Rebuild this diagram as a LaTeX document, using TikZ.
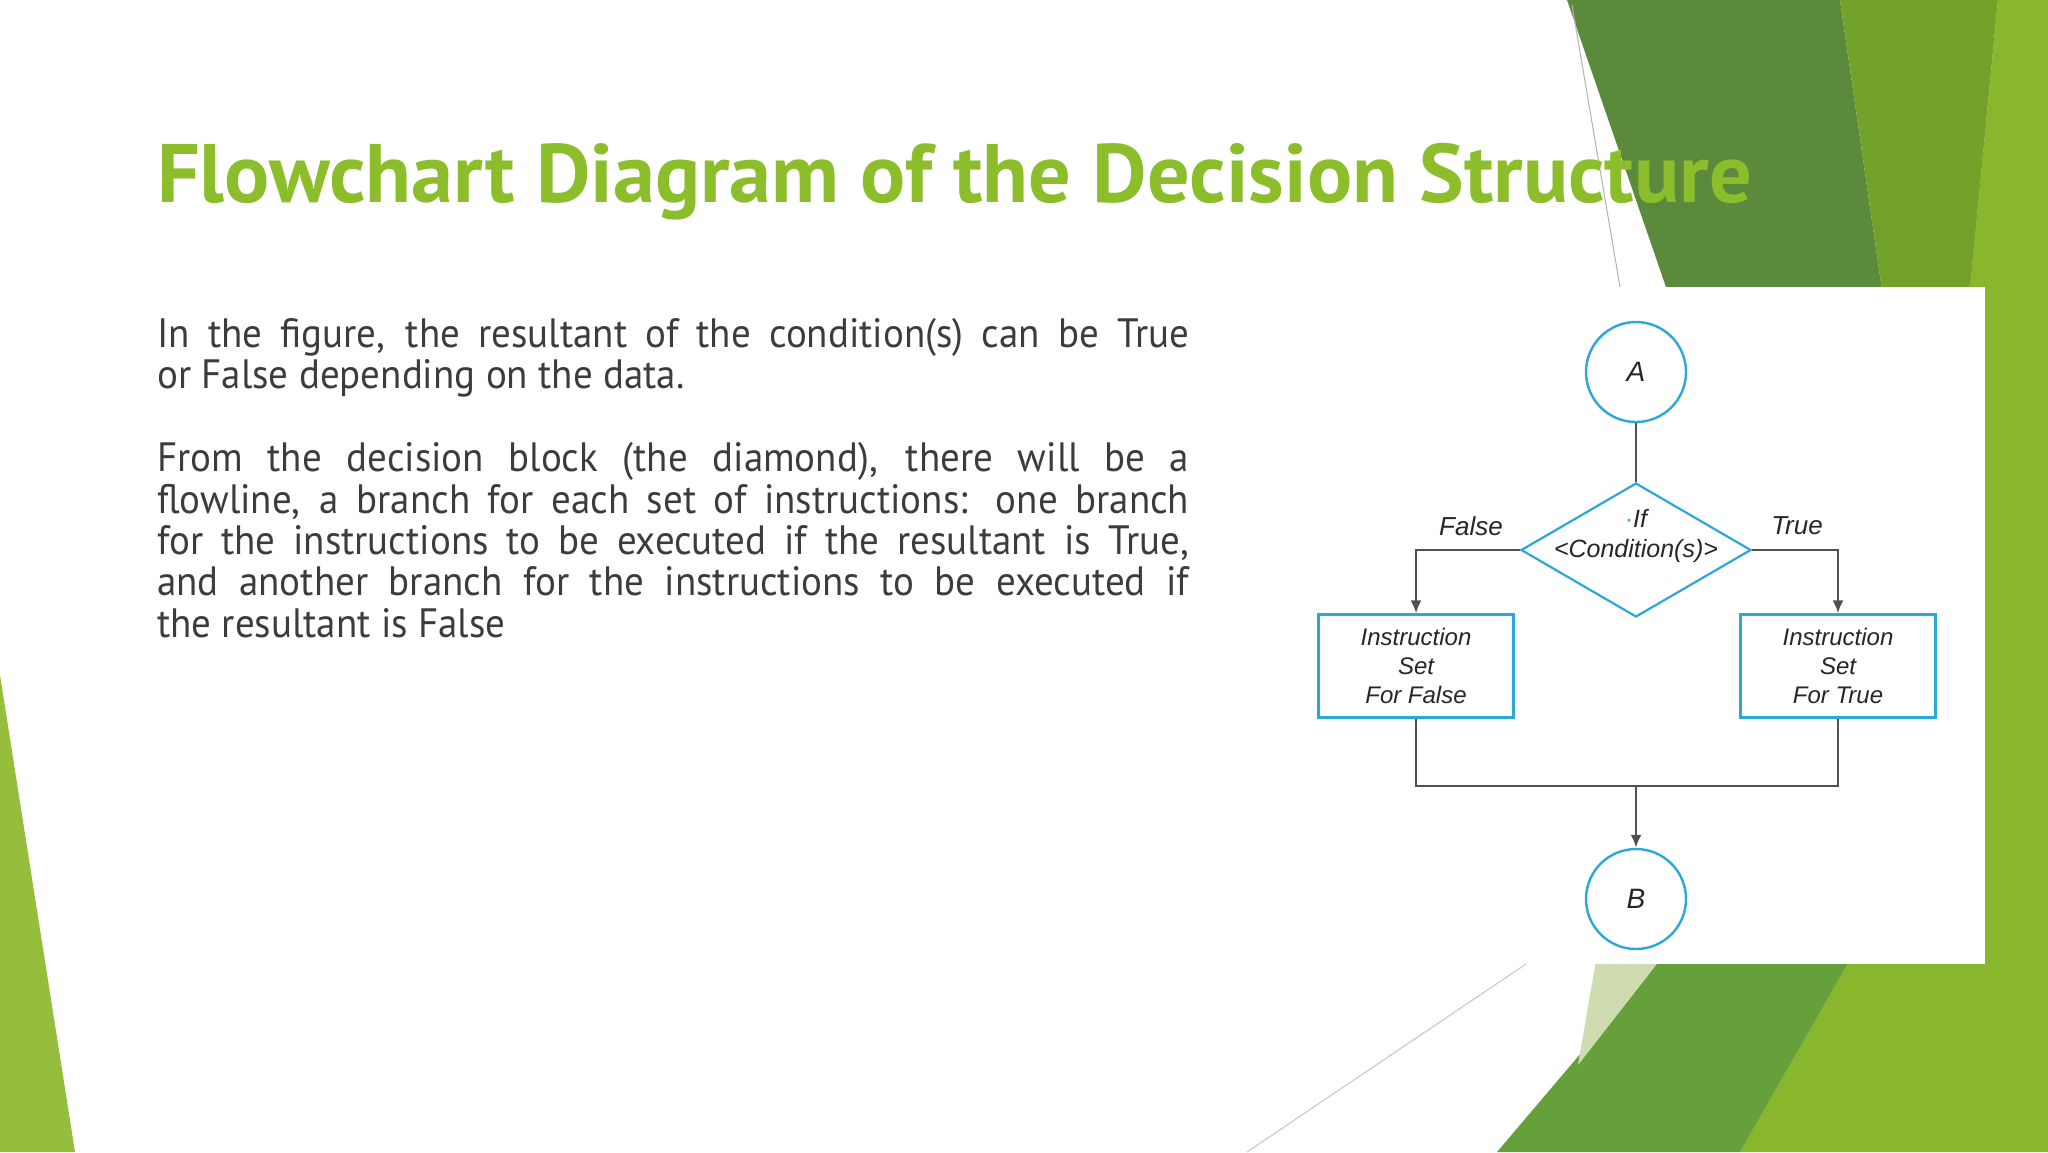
\documentclass[tikz,border=0pt]{standalone}
\usepackage{fontspec}
\usetikzlibrary{shapes.geometric,arrows.meta}
\newfontfamily\titlefont[FakeStretch=1.015]{PT Sans}
\newfontfamily\bodyfont[FakeStretch=0.95]{PT Sans}
\newfontfamily\chartfont{Liberation Sans}
\definecolor{titlegreen}{HTML}{8CBE2B}
\definecolor{bodygray}{HTML}{3C3C3C}
\definecolor{darkleaf}{HTML}{5B8A3D}
\definecolor{oliveleaf}{HTML}{72A22A}
\definecolor{brightleaf}{HTML}{88B72E}
\definecolor{midleaf}{HTML}{66A03A}
\definecolor{paleleaf}{HTML}{CEDCB0}
\definecolor{sideleaf}{HTML}{95BE3C}
\definecolor{flowblue}{HTML}{2CA8D8}
\definecolor{flowline}{HTML}{505050}

\begin{document}
\begin{tikzpicture}[x=1pt,y=-1pt,
	connector/.style={draw=flowline, line width=2.4pt},
	arrowline/.style={connector, -{Latex[length=13pt,width=11pt]}},
	terminal/.style={circle, draw=flowblue, line width=2.4pt, minimum size=100pt, inner sep=0pt, text=black!85,
		font=\chartfont\itshape\fontsize{28}{30}\selectfont},
	decision/.style={diamond, draw=flowblue, line width=2.2pt, minimum width=230pt, minimum height=134pt, inner sep=0pt},
	process/.style={rectangle, draw=flowblue, line width=2.2pt, minimum width=195pt, minimum height=103pt,
		align=center, inner sep=0pt, text=black!85, font=\chartfont\itshape\fontsize{24}{29.4}\selectfont},
	branchtext/.style={text=black!85, font=\chartfont\itshape\fontsize{25}{29.4}\selectfont},
	branchlabel/.style={text=black!85, font=\chartfont\itshape\fontsize{26}{30}\selectfont}]
	
	\fill[white] (0,0) rectangle (2048,1152);
	\useasboundingbox (0,0) rectangle (2048,1152);
	
	% leaves of the slide
	\fill[sideleaf] (0,675) -- (75,1152) -- (0,1152) -- cycle;
	\fill[darkleaf] (1567,0) -- (1840,0) -- (1882,290) -- (1667,290) -- cycle;
	\fill[oliveleaf] (1840,0) -- (1998,0) -- (1970,290) -- (1882,290) -- cycle;
	\fill[brightleaf] (1998,0) -- (2048,0) -- (2048,1152) -- (1740,1152) -- (1850,960) -- (1970,287) -- cycle;
	\fill[midleaf] (1660,960) -- (1850,960) -- (1740,1152) -- (1497,1152) -- cycle;
	\fill[paleleaf] (1596,960) -- (1660,960) -- (1578,1065) -- cycle;
	\draw[gray!60, line width=1pt] (1572,5) -- (1620,287);
	\draw[gray!45, line width=1pt] (1526,964) -- (1247,1152);
	\fill[white] (1290,287) rectangle (1985,964);
	
	% title and text
	\node[anchor=base west, inner sep=0pt, text=titlegreen,
		font=\titlefont\bfseries\fontsize{83}{90}\selectfont] (title) at (157,202)
		{Flowchart Diagram of the Decision Structure};
	\node[anchor=north west, inner sep=0pt, text width=1032pt, align=justify, text=bodygray,
		font=\bodyfont\fontsize{41}{41.4}\selectfont] (para) at (157,318)
		{\tolerance=10000 \hyphenpenalty=10000
		In the figure, the resultant of the condition(s) can be True\linebreak
		or False depending on the data.\par\vspace{41.4pt}
		From the decision block (the diamond), there will be a\linebreak
		flowline, a branch for each set of instructions: one branch\linebreak
		for the instructions to be executed if the resultant is True,\linebreak
		and another branch for the instructions to be executed if\linebreak
		the resultant is False};
	
	% flowchart
	\node[terminal] (A) at (1636,372) {A};
	\node[decision, label={[branchtext, align=center, yshift=14pt]center:{{\color{flowblue}·}If\\<Condition(s)>}}] (cond) at (1636,550) {};
	\node[process] (falseset) at (1416,666) {Instruction\\Set\\For False};
	\node[process] (trueset) at (1838,666) {Instruction\\Set\\For True};
	\node[terminal] (B) at (1636,899) {B};
	\coordinate (join) at (1636,786);
	\node[branchlabel] (falselbl) at (1471,526) {False};
	\node[branchlabel] (truelbl) at (1797,526) {True};
	
	\draw[connector] (A) -- (cond);
	\draw[arrowline] (cond.west) -| (falseset.north);
	\draw[arrowline] (cond.east) -| (trueset.north);
	\draw[connector] (falseset.south) |- (join) -| (trueset.south);
	\draw[arrowline] (join) -- (B);
\end{tikzpicture}
\end{document}
